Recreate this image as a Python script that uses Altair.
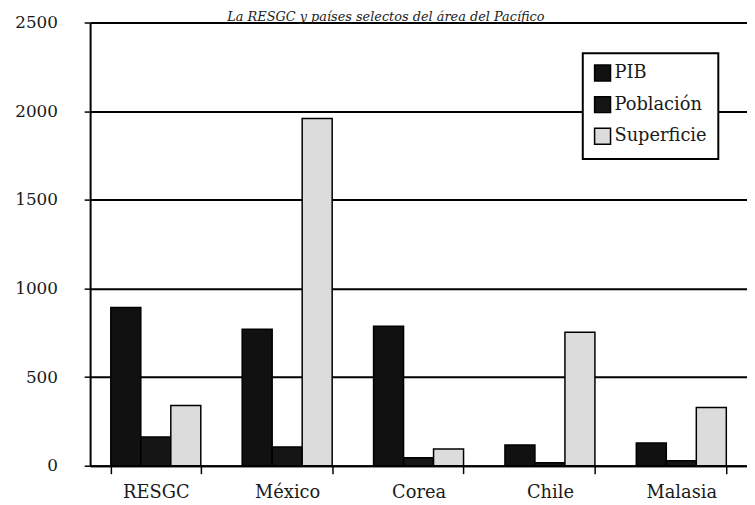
import altair as alt
import pandas as pd

countries = ["RESGC", "México", "Corea", "Chile", "Malasia"]
series = ["PIB", "Población", "Superficie"]
pib = [893, 770, 787, 117, 128]
poblacion = [162, 106, 45, 17, 28]
superficie = [340, 1959, 95, 753, 329]
title_text = "La RESGC y países selectos del área del Pacífico"
y_ticks = [0, 500, 1000, 1500, 2000, 2500]

rows = []
for i, c in enumerate(countries):
    for s, vals in zip(series, [pib, poblacion, superficie]):
        rows.append({"pais": c, "serie": s, "valor": vals[i]})
df = pd.DataFrame(rows)

FONT = "DejaVu Serif"

bars = alt.Chart(df).mark_bar(stroke="black", strokeWidth=1.5).encode(
    x=alt.X("pais:N", sort=countries, title=None,
            scale=alt.Scale(paddingInner=0.315, paddingOuter=0.1575),
            axis=alt.Axis(labelAngle=0, labelFont=FONT, labelFontSize=18,
                          labelColor="#1a1a1a", tickBand="extent", tickSize=8,
                          tickColor="black", tickWidth=1.5, domainColor="black",
                          domainWidth=2, labelPadding=10, grid=False)),
    xOffset=alt.XOffset("serie:N", sort=series,
                        scale=alt.Scale(paddingInner=0, paddingOuter=0)),
    y=alt.Y("valor:Q", title=None,
            scale=alt.Scale(domain=[0, 2500], nice=False),
            axis=alt.Axis(values=y_ticks, format="d", labelFont=FONT,
                          labelFontSize=17, labelColor="#1a1a1a", tickSize=6,
                          tickColor="black", tickWidth=1.5,
                          domainColor="black", domainWidth=2,
                          labelPadding=27, grid=True, gridColor="black",
                          gridWidth=2, gridOpacity=1)),
    color=alt.Color("serie:N", sort=series,
                    scale=alt.Scale(domain=series,
                                    range=["#111111", "#151515", "#dcdcdc"]),
                    legend=alt.Legend(title=None, orient="none", legendX=498,
                                      legendY=31, strokeColor="black",
                                      fillColor="white", padding=11,
                                      symbolType="square", symbolSize=260,
                                      symbolStrokeColor="black",
                                      symbolStrokeWidth=1.5,
                                      labelFont=FONT, labelFontSize=18,
                                      labelColor="#1a1a1a", rowPadding=8,
                                      labelOffset=3)),
)

title = alt.Chart(pd.DataFrame({"t": [title_text]})).mark_text(
    font=FONT, fontSize=13, fontStyle="italic", color="#222",
    baseline="alphabetic", align="center"
).encode(text="t:N", x=alt.value(299), y=alt.value(-2))

chart = alt.layer(bars, title).properties(
    width=664, height=448,
    autosize=alt.AutoSizeParams(type="none"),
    padding={"left": 83, "top": 12, "right": 0, "bottom": 37},
).configure_view(stroke=None).configure_legend(strokeWidth=2)

chart.save("out.html", embed_options={"renderer": "svg", "actions": False})
